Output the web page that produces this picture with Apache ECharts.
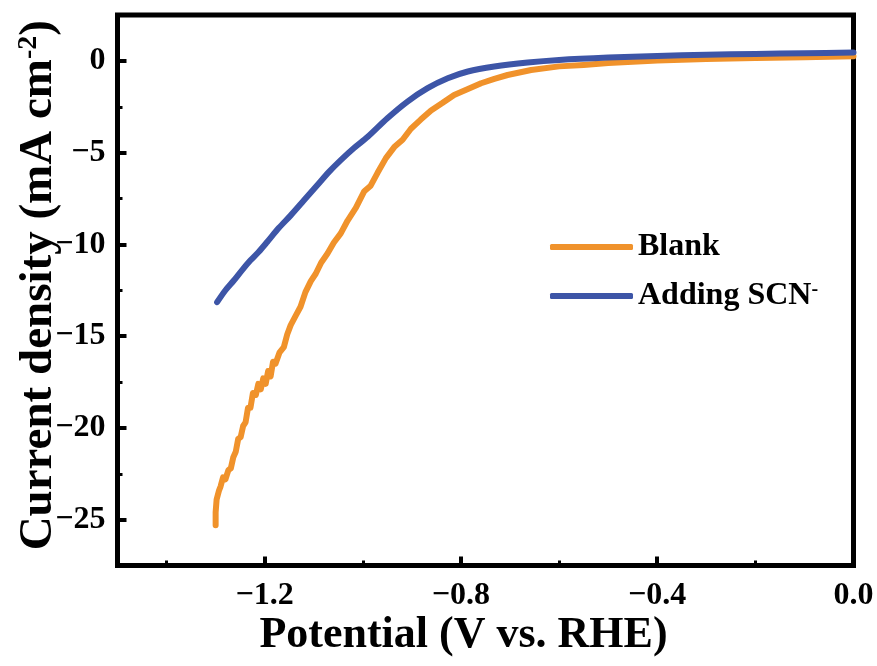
<!DOCTYPE html>
<html>
<head>
<meta charset="utf-8">
<script src="https://cdn.jsdelivr.net/npm/echarts@6/dist/echarts.min.js"></script>
<style>
  html, body { margin: 0; padding: 0; background: #fff; }
  #chart { width: 877px; height: 666px; }
</style>
</head>
<body>
<div id="chart"></div>
<script>
// ---- data ----
const seriesNames = ['Blank', 'Adding SCN-'];

const blankV = [-1.300, -1.300, -1.298, -1.296, -1.293, -1.290, -1.285, -1.280, -1.274, -1.269,
  -1.264, -1.259, -1.254, -1.249, -1.244, -1.239, -1.234, -1.229, -1.224, -1.218,
  -1.213, -1.208, -1.203, -1.198, -1.193, -1.188, -1.183, -1.178, -1.170, -1.161,
  -1.154, -1.147, -1.137, -1.127, -1.117, -1.106, -1.096, -1.085, -1.072, -1.059,
  -1.045, -1.031, -1.014, -0.997, -0.984, -0.970, -0.953, -0.936, -0.919, -0.902,
  -0.882, -0.861, -0.838, -0.814, -0.787, -0.759, -0.732, -0.705,
  -0.657, -0.600, -0.550, -0.500, -0.400, -0.300, -0.200, -0.100, 0.000];
const blankJ = [-25.3, -24.6, -23.9, -24.0, -23.4, -23.2, -22.7, -22.8, -22.3, -22.2,
  -21.6, -21.3, -20.6, -20.5, -19.9, -19.7, -18.9, -18.9, -18.1, -18.2,
  -17.6, -17.9, -17.3, -17.6, -16.9, -17.2, -16.4, -16.5, -15.9, -15.6,
  -14.9, -14.4, -13.9, -13.4, -12.6, -12.0, -11.6, -11.0, -10.5, -9.9,
  -9.4, -8.7, -8.0, -7.1, -6.8, -6.1, -5.3, -4.7, -4.3, -3.7,
  -3.2, -2.7, -2.3, -1.86, -1.55, -1.22, -0.98, -0.77,
  -0.50, -0.30, -0.22, -0.12, 0.02, 0.10, 0.15, 0.20, 0.25];

const scnV = [-1.297, -1.280, -1.263, -1.246, -1.229, -1.212, -1.195, -1.171, -1.147, -1.120,
  -1.093, -1.069, -1.045, -1.018, -0.990, -0.950, -0.909, -0.868, -0.827, -0.786,
  -0.732, -0.664, -0.600, -0.500, -0.400, -0.300, -0.200, -0.100, 0.000];
const scnJ = [-13.15, -12.5, -11.97, -11.4, -10.87, -10.4, -9.87, -9.1, -8.42, -7.6,
  -6.78, -6.05, -5.41, -4.75, -4.14, -3.13, -2.22, -1.49, -0.95, -0.58,
  -0.31, -0.09, 0.05, 0.18, 0.27, 0.33, 0.38, 0.42, 0.45];

const xMajorTicks = [-1.2, -0.8, -0.4, 0.0];
const xMinorTicks = [-1.4, -1.0, -0.6, -0.2];
const yMajorTicks = [0, -5, -10, -15, -20, -25];
const yMinorTicks = [-2.5, -7.5, -12.5, -17.5, -22.5];

const xTitle = 'Potential (V vs. RHE)';
const yTitle = 'Current density (mA cm{sup|-2})';

// ---- chart ----
const FONT = '"Liberation Serif", "Times New Roman", serif';
const minus = v => (v < 0 ? '\u2212' : '');

const chart = echarts.init(document.getElementById('chart'), null, { renderer: 'canvas' });

const xBase = {
  type: 'value', min: -1.5, max: 0.0, position: 'bottom',
  splitLine: { show: false }, axisLine: { show: false, onZero: false }
};
const yBase = {
  type: 'value', min: -27.5, max: 2.5, position: 'left',
  splitLine: { show: false }, axisLine: { show: false, onZero: false }
};

chart.setOption({
  animation: false,
  backgroundColor: '#fff',
  grid: {
    left: 117.5, right: 23.5, top: 15, bottom: 100.5,
    containLabel: false, outerBoundsMode: 'none',
    show: true, borderColor: '#000', borderWidth: 5, backgroundColor: 'transparent'
  },
  legend: {
    data: seriesNames,
    left: 545, top: 224, orient: 'vertical',
    itemWidth: 83, itemHeight: 6, itemGap: 13, icon: 'roundRect',
    textStyle: {
      fontFamily: FONT, fontWeight: 'bold', fontSize: 32, color: '#000', lineHeight: 36,
      rich: {
        sup: { fontFamily: FONT, fontWeight: 'bold', fontSize: 20, color: '#000',
               verticalAlign: 'bottom', padding: [0, 0, 14, 0] }
      }
    },
    formatter: name => (name === 'Adding SCN-' ? 'Adding SCN{sup|-}' : name)
  },
  xAxis: [
    Object.assign({}, xBase, {
      name: xTitle, nameLocation: 'middle', nameGap: 48, nameMoveOverlap: false,
      nameTextStyle: { fontFamily: FONT, fontWeight: 'bold', fontSize: 44, color: '#000', padding: [0, 44, 0, 0] },
      axisTick: { show: true, inside: true, length: 9, lineStyle: { color: '#000', width: 4 }, customValues: xMajorTicks },
      axisLabel: {
        show: true, margin: 14, customValues: xMajorTicks,
        fontFamily: FONT, fontWeight: 'bold', fontSize: 32, color: '#000',
        formatter: v => minus(v) + Math.abs(v).toFixed(1)
      }
    }),
    Object.assign({}, xBase, {
      axisTick: { show: true, inside: true, length: 5, lineStyle: { color: '#000', width: 3 }, customValues: xMinorTicks },
      axisLabel: { show: false }
    })
  ],
  yAxis: [
    Object.assign({}, yBase, {
      name: yTitle, nameLocation: 'middle', nameRotate: 90, nameGap: 55, nameMoveOverlap: false,
      nameTextStyle: {
        fontFamily: FONT, fontWeight: 'bold', fontSize: 47, color: '#000',
        padding: [0, 0, 0, 10],
        rich: {
          sup: { fontFamily: FONT, fontWeight: 'bold', fontSize: 28, color: '#000',
                 verticalAlign: 'bottom', padding: [0, 0, 20, 0] }
        }
      },
      axisTick: { show: true, inside: true, length: 9, lineStyle: { color: '#000', width: 4 }, customValues: yMajorTicks },
      axisLabel: {
        show: true, margin: 12, customValues: yMajorTicks,
        fontFamily: FONT, fontWeight: 'bold', fontSize: 32, color: '#000',
        formatter: v => minus(v) + Math.abs(v)
      }
    }),
    Object.assign({}, yBase, {
      axisTick: { show: true, inside: true, length: 5, lineStyle: { color: '#000', width: 3 }, customValues: yMinorTicks },
      axisLabel: { show: false }
    })
  ],
  series: [
    {
      name: seriesNames[0], type: 'line', xAxisIndex: 0, yAxisIndex: 0,
      symbol: 'none', showSymbol: false, smooth: false,
      itemStyle: { color: '#F0922B' },
      lineStyle: { color: '#F0922B', width: 6, cap: 'round', join: 'round' },
      data: blankV.map((v, i) => [v, blankJ[i]])
    },
    {
      name: seriesNames[1], type: 'line', xAxisIndex: 0, yAxisIndex: 0,
      symbol: 'none', showSymbol: false, smooth: 0.3,
      itemStyle: { color: '#3D55A7' },
      lineStyle: { color: '#3D55A7', width: 6, cap: 'round', join: 'round' },
      data: scnV.map((v, i) => [v, scnJ[i]])
    }
  ]
});
</script>
</body>
</html>
